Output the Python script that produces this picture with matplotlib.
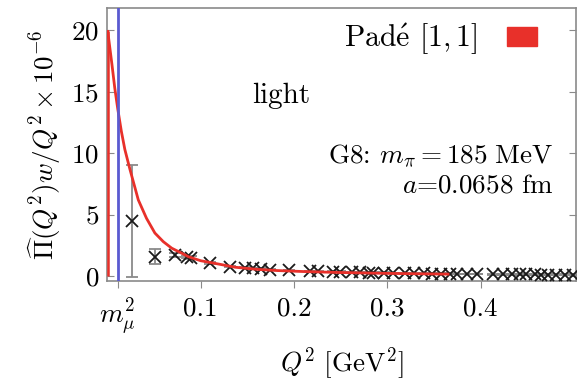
import matplotlib

matplotlib.use("Agg")
import matplotlib.pyplot as plt
from matplotlib.patches import Patch

# Pade [1,1] curve
curve_q2 = [0.0005, 0.002, 0.005, 0.008, 0.0112, 0.015, 0.0188, 0.0242, 0.0332,
            0.042, 0.051, 0.060, 0.069, 0.0787, 0.0868, 0.100, 0.115, 0.137,
            0.160, 0.182, 0.210, 0.250, 0.300, 0.330, 0.365]
curve_y = [19.9, 19.0, 17.2, 15.3, 13.6, 11.8, 10.3, 8.7, 6.2,
           4.7, 3.5, 2.8, 2.27, 1.9, 1.58, 1.25, 1.04, 0.72,
           0.55, 0.45, 0.37, 0.29, 0.22, 0.19, 0.16]

# lattice points (G8)
pts_q2 = [0.026, 0.051, 0.0725, 0.085, 0.090, 0.110, 0.1316, 0.1475, 0.156,
          0.165, 0.174, 0.195, 0.217, 0.226, 0.242, 0.249, 0.262, 0.271,
          0.280, 0.285, 0.296, 0.306, 0.319, 0.328, 0.339, 0.348, 0.357,
          0.367, 0.375, 0.385, 0.396, 0.413, 0.424, 0.433, 0.442, 0.449,
          0.458, 0.465, 0.472, 0.481, 0.490, 0.499]
pts_y = [4.5, 1.58, 1.70, 1.55, 1.50, 1.08, 0.78, 0.68, 0.62,
         0.58, 0.53, 0.47, 0.42, 0.40, 0.37, 0.35, 0.32, 0.30,
         0.29, 0.28, 0.27, 0.26, 0.24, 0.23, 0.22, 0.21, 0.20,
         0.19, 0.18, 0.17, 0.16, 0.15, 0.15, 0.14, 0.14, 0.13,
         0.13, 0.12, 0.12, 0.12, 0.11, 0.11]
pts_err = [4.55, 0.62, 0.15, 0.10, 0.10, 0.08, 0.06, 0.05, 0.05,
           0.04, 0.04, 0.04, 0.03, 0.03, 0.03, 0.03, 0.03, 0.03,
           0.03, 0.03, 0.03, 0.03, 0.03, 0.03, 0.03, 0.03, 0.03,
           0.03, 0.03, 0.03, 0.03, 0.03, 0.03, 0.03, 0.03, 0.03,
           0.03, 0.03, 0.03, 0.03, 0.03, 0.03]

m_mu2 = 0.10566 ** 2
xticks = [m_mu2, 0.1, 0.2, 0.3, 0.4]
xticklabels = [r"$m_\mu^2$", "0.1", "0.2", "0.3", "0.4"]
yticks = [0, 5, 10, 15, 20]

plt.rcParams["font.family"] = ["cmr10", "DejaVu Serif"]
plt.rcParams["mathtext.fontset"] = "cm"
plt.rcParams["axes.unicode_minus"] = False
plt.rcParams["axes.formatter.use_mathtext"] = True

red = "#e8302a"
blue = "#5a5ad0"
frame = "#8a8a8a"
fs = 19.5

fig = plt.figure(figsize=(5.8, 3.86), dpi=100)
ax = fig.add_axes([0.185, 0.272, 0.808, 0.707])

ax.errorbar(pts_q2, pts_y, yerr=pts_err, fmt="none", ecolor="#8a8a8a",
            elinewidth=1.3, capsize=4, capthick=1.3, zorder=2)
ax.plot(pts_q2, pts_y, ls="none", marker="x", ms=8, mew=1.3,
        color="#1a1a1a", zorder=3)
ax.vlines(curve_q2[0], 0, curve_y[0], color=red, lw=1.8, zorder=4)
ax.plot(curve_q2, curve_y, color=red, lw=2.0, zorder=4)
ax.axvline(m_mu2, color=blue, lw=2.0, zorder=5)

ax.set_xlim(0, 0.502)
ax.set_ylim(-0.4, 21.8)
ax.set_xticks(xticks)
ax.set_xticklabels(xticklabels)
ax.set_yticks(yticks)
ax.tick_params(axis="both", labelsize=fs, color=frame, length=5)
ax.tick_params(axis="y", direction="in", right=True, pad=6)
ax.tick_params(axis="x", direction="out", pad=6)
for s in ax.spines.values():
    s.set_color(frame)
    s.set_linewidth(1.2)

ax.set_xlabel(r"$Q^2\ [\mathrm{GeV}^2]$", fontsize=fs, labelpad=6)
ax.set_ylabel(r"$\widehat{\Pi}(Q^2)w/Q^2\times10^{-6}$", fontsize=fs, labelpad=6)

ax.legend(handles=[Patch(facecolor=red, edgecolor=red)],
          labels=[r"Pad$\acute{\mathrm{e}}$ $[1,1]$"], loc="upper right",
          bbox_to_anchor=(1.0, 1.092), frameon=False, fontsize=21.5,
          markerfirst=False, handlelength=1.0, handleheight=0.6,
          handletextpad=1.0, borderaxespad=0.9)

ax.text(0.37, 0.68, "light", transform=ax.transAxes, fontsize=21,
        ha="center", va="center")
ax.text(0.952, 0.46, r"G8: $m_\pi = 185\ \mathrm{MeV}$", transform=ax.transAxes,
        fontsize=fs, ha="right", va="center")
ax.text(0.952, 0.35, r"$a$=0.0658 fm", transform=ax.transAxes,
        fontsize=fs, ha="right", va="center")

fig.savefig("out.png", dpi=100)
